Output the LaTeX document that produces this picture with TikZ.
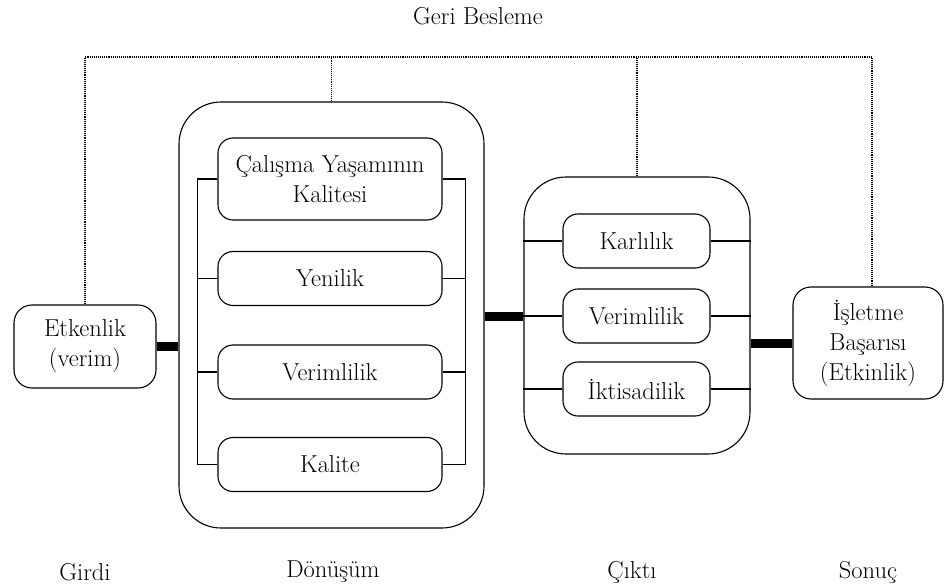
\documentclass[tikz,border=0pt]{standalone}
\usepackage{fontspec}
\begin{document}
\begin{tikzpicture}[x=1pt,y=-1pt,
  font=\fontsize{24.5}{30}\selectfont,
  box/.style={draw,line width=1.1pt,rounded corners=15pt,align=center,inner sep=0pt},
  outer/.style={draw,line width=1.1pt,rounded corners=42pt,inner sep=0pt},
  thin/.style={line width=1.1pt},
  thick link/.style={line width=9pt},
  fb/.style={densely dotted,line width=1.1pt}]
\useasboundingbox (0,0) rectangle (945,588);

% stage containers
\node[outer,minimum width=305pt,minimum height=426pt] (don) at (331.5,315) {};
\node[outer,minimum width=226pt,minimum height=277pt] (cik) at (637,315.5) {};

% input and result
\node[box,rounded corners=18pt,minimum width=142pt,minimum height=83pt] (etk) at (85,346.5) {Etkenlik\\(verim)};
\node[box,rounded corners=18pt,minimum width=150pt,minimum height=112pt] (son) at (868,343) {İşletme\\Başarısı\\(Etkinlik)};

% transformation items
\node[box,minimum width=224pt,minimum height=82pt] (k1) at (330,179) {Çalışma Yaşamının\\Kalitesi};
\node[box,minimum width=224pt,minimum height=54pt] (k2) at (330,278.5) {Yenilik};
\node[box,minimum width=224pt,minimum height=54pt] (k3) at (330,372) {Verimlilik};
\node[box,minimum width=224pt,minimum height=54pt] (k4) at (330,464.5) {Kalite};

% output items
\node[box,minimum width=147pt,minimum height=54pt] (c1) at (636.5,241) {Karlılık};
\node[box,minimum width=147pt,minimum height=54pt] (c2) at (636.5,316) {Verimlilik};
\node[box,minimum width=147pt,minimum height=54pt] (c3) at (636.5,389) {İktisadilik};

% brackets joining the transformation items
\draw[thin] (k1.west) -- ++(-20,0) |- (k4.west);
\draw[thin] (k2.west) -- ++(-20,0);
\draw[thin] (k3.west) -- ++(-20,0);
\draw[thin] (k1.east) -- ++(23,0) |- (k4.east);
\draw[thin] (k2.east) -- ++(23,0);
\draw[thin] (k3.east) -- ++(23,0);

% output item links
\foreach \n in {c1,c2,c3}{
  \draw[thin] (\n.west) -- (\n.west -| cik.west);
  \draw[thin] (\n.east) -- (\n.east -| cik.east);
}

% main flow
\draw[thick link] (etk.east) -- (etk.east -| don.west);
\draw[thick link] (don.east |- c2) -- (cik.west |- c2);
\draw[thick link] (cik.east |- son) -- (son.west);

% feedback loop
\coordinate (fbL) at (85,57);
\coordinate (fbR) at (872,57);
\coordinate (sonTop) at ([xshift=4pt]son.north);
\draw[fb] (etk.north) -- (etk.north |- fbL) -- (fbR) -- (sonTop);
\draw[fb] (don.north) -- (don.north |- fbL);
\draw[fb] (cik.north) -- (cik.north |- fbL);

% labels
\node (geri) at (478,16) {Geri Besleme};
\node (girdi) at (85,572) {Girdi};
\node (donl) at (333,572) {Dönüşüm};
\node (cikl) at (632,572) {Çıktı};
\node (sonl) at (868,572) {Sonuç};
\end{tikzpicture}
\end{document}
